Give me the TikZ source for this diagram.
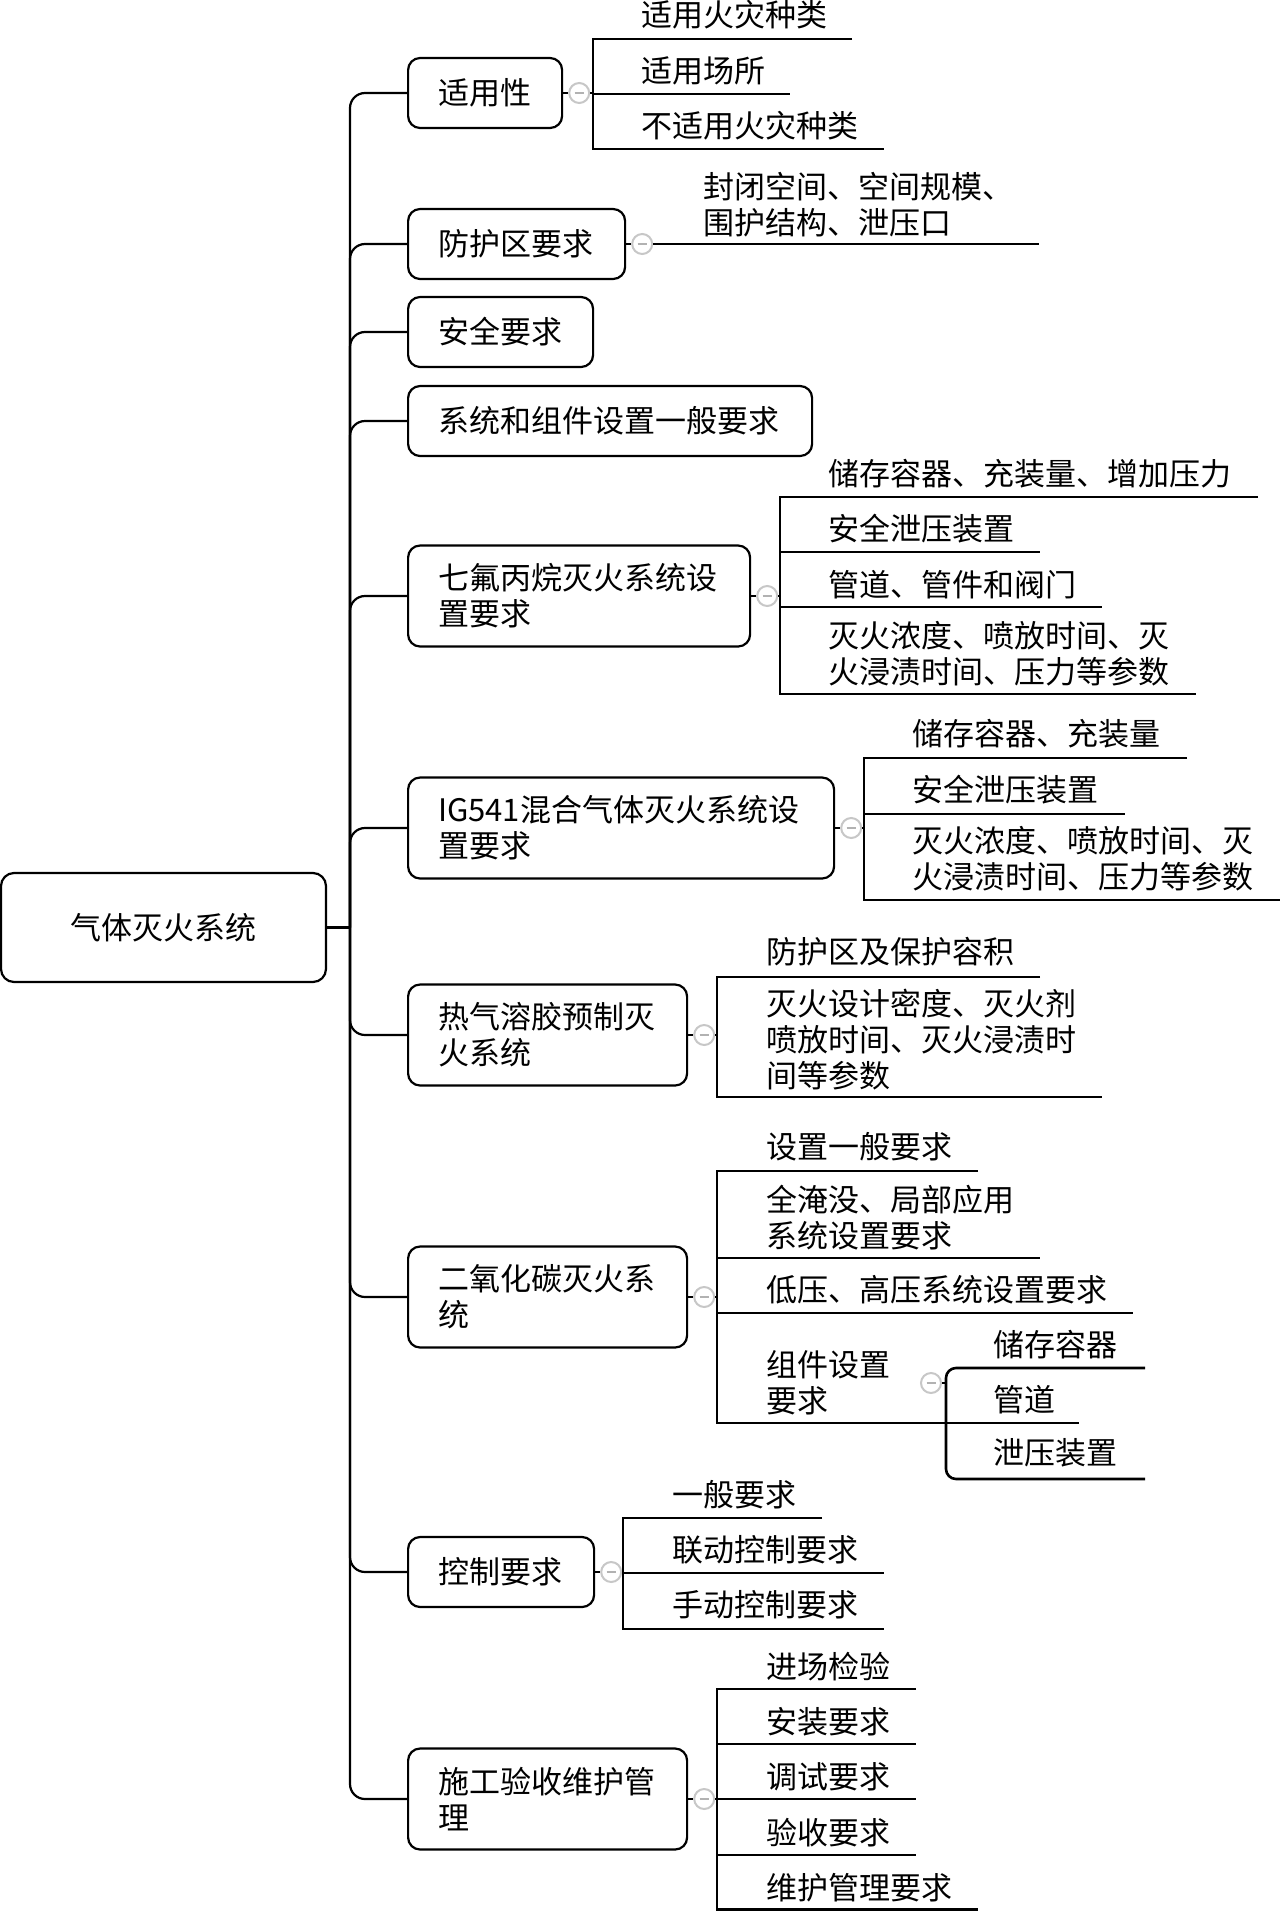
\documentclass[tikz,border=0pt]{standalone}
\usepackage{fontspec}
\setmainfont{Noto Sans CJK SC}
\begin{document}
\begin{tikzpicture}[x=1pt,y=-1pt,
  every node/.style={font=\fontsize{31pt}{36pt}\selectfont, inner sep=0pt},
  lvl/.style={draw, line width=2.2pt, rounded corners=12pt, inner xsep=30pt, inner ysep=0pt, align=left, anchor=west},
  one/.style={lvl, minimum height=70pt},
  two/.style={lvl, minimum height=101pt},
  leaf/.style={anchor=west, align=left, inner sep=0pt},
  tog/.style={circle, draw=black!22, fill=white, line width=2pt, minimum size=20pt, inner sep=0pt,
    path picture={\draw[black!30, line width=1.6pt] ([xshift=-4.5pt]path picture bounding box.center) -- ([xshift=4.5pt]path picture bounding box.center);}},
  conn/.style={line width=2.2pt},
  ul/.style={line width=2.6pt},
]
\useasboundingbox (0,0) rectangle (1280,1911);

% root
\node[draw, line width=2.2pt, rounded corners=13pt, minimum width=325pt, minimum height=109pt] (root) at (163.5,927.5) {气体灭火系统};
\coordinate (T) at (350,927.5);
\draw[conn] (root.east) -- (T);

% level 1
\node[one, text width=94pt]  (b1)  at (407,93)   {适用性};
\node[one, text width=157pt] (b2)  at (407,244)  {防护区要求};
\node[one, text width=125pt] (b3)  at (407,332)  {安全要求};
\node[one, text width=344pt] (b4)  at (407,421)  {系统和组件设置一般要求};
\node[two, text width=282pt] (b5)  at (407,596)  {七氟丙烷灭火系统设\\置要求};
\node[two, text width=366pt] (b6)  at (407,828)  {IG541混合气体灭火系统设\\置要求};
\node[two, text width=219pt] (b7)  at (407,1035) {热气溶胶预制灭\\火系统};
\node[two, text width=219pt] (b8)  at (407,1297) {二氧化碳灭火系\\统};
\node[one, text width=126pt] (b9)  at (407,1572) {控制要求};
\node[two, text width=219pt] (b10) at (407,1799) {施工验收维护管\\理};

\foreach \b in {b1,b2,b3,b4,b5,b6,b7,b8,b9,b10}
  \draw[conn, rounded corners=15pt] (\b.west) -| (T);

% toggles
\foreach \b/\c in {b1/c1,b2/c2,b5/c5,b6/c6,b7/c7,b8/c8,b9/c9,b10/c10}{
  \node[tog] (\c) at ([xshift=16pt]\b.east) {};
  \draw[conn] (\b.east) -- (\c.west);
}

% group 1
\draw[conn] (c1.east) -- (593,93);
\draw[ul] (852,39) -- (593,39) -- (593,149) -- (884,149);
\draw[ul] (593,94) -- (790,94);
\node[leaf] (t11) at (641,15)  {适用火灾种类};
\node[leaf] (t12) at (641,71)  {适用场所};
\node[leaf] (t13) at (641,126) {不适用火灾种类};

% group 2
\draw[ul] (c2.east) -- (1039,244);
\node[leaf] (t21) at (703,204.5) {封闭空间、空间规模、\\围护结构、泄压口};

% group 5
\draw[conn] (c5.east) -- (780,596);
\draw[ul] (1258,497) -- (780,497) -- (780,694) -- (1196,694);
\draw[ul] (780,552) -- (1040,552);
\draw[ul] (780,607) -- (1102,607);
\node[leaf] (t51) at (828,474) {储存容器、充装量、增加压力};
\node[leaf] (t52) at (828,529) {安全泄压装置};
\node[leaf] (t53) at (828,585) {管道、管件和阀门};
\node[leaf] (t54) at (828,654) {灭火浓度、喷放时间、灭\\火浸渍时间、压力等参数};

% group 6
\draw[conn] (c6.east) -- (864,828);
\draw[ul] (1187,758) -- (864,758) -- (864,900) -- (1280,900);
\draw[ul] (864,814) -- (1125,814);
\node[leaf] (t61) at (912,734) {储存容器、充装量};
\node[leaf] (t62) at (912,790) {安全泄压装置};
\node[leaf] (t63) at (912,859) {灭火浓度、喷放时间、灭\\火浸渍时间、压力等参数};

% group 7
\draw[conn] (c7.east) -- (717,1035);
\draw[ul] (1040,977) -- (717,977) -- (717,1097) -- (1102,1097);
\node[leaf] (t71) at (766,952)  {防护区及保护容积};
\node[leaf] (t72) at (766,1040) {灭火设计密度、灭火剂\\喷放时间、灭火浸渍时\\间等参数};

% group 8
\draw[conn] (c8.east) -- (717,1297);
\draw[ul] (978,1171) -- (717,1171) -- (717,1423) -- (946,1423);
\draw[ul] (717,1258) -- (1040,1258);
\draw[ul] (717,1313) -- (1133,1313);
\node[leaf] (t81) at (766,1147)   {设置一般要求};
\node[leaf] (t82) at (766,1217.5) {全淹没、局部应用\\系统设置要求};
\node[leaf] (t83) at (766,1290)   {低压、高压系统设置要求};
\node[leaf] (t84) at (766,1382.5) {组件设置\\要求};
\node[tog] (c84) at (931,1383) {};
\draw[conn] (c84.east) -- (946,1383);
\draw[ul, rounded corners=10pt] (1145,1368) -- (946,1368) -- (946,1479) -- (1145,1479);
\draw[ul] (946,1423) -- (1079,1423);
\node[leaf] (t841) at (993,1345) {储存容器};
\node[leaf] (t842) at (993,1400) {管道};
\node[leaf] (t843) at (993,1453) {泄压装置};

% group 9
\draw[conn] (c9.east) -- (623,1572);
\draw[ul] (822,1518) -- (623,1518) -- (623,1629) -- (884,1629);
\draw[ul] (623,1573) -- (884,1573);
\node[leaf] (t91) at (672,1495) {一般要求};
\node[leaf] (t92) at (672,1550) {联动控制要求};
\node[leaf] (t93) at (672,1605) {手动控制要求};

% group 10
\draw[conn] (c10.east) -- (717,1799);
\draw[ul] (916,1689) -- (717,1689) -- (717,1909.7) -- (978,1909.7);
\draw[ul] (717,1744) -- (916,1744);
\draw[ul] (717,1799) -- (916,1799);
\draw[ul] (717,1855) -- (916,1855);
\node[leaf] (ta1) at (766,1667) {进场检验};
\node[leaf] (ta2) at (766,1722) {安装要求};
\node[leaf] (ta3) at (766,1777) {调试要求};
\node[leaf] (ta4) at (766,1833) {验收要求};
\node[leaf] (ta5) at (766,1888) {维护管理要求};
\end{tikzpicture}
\end{document}
